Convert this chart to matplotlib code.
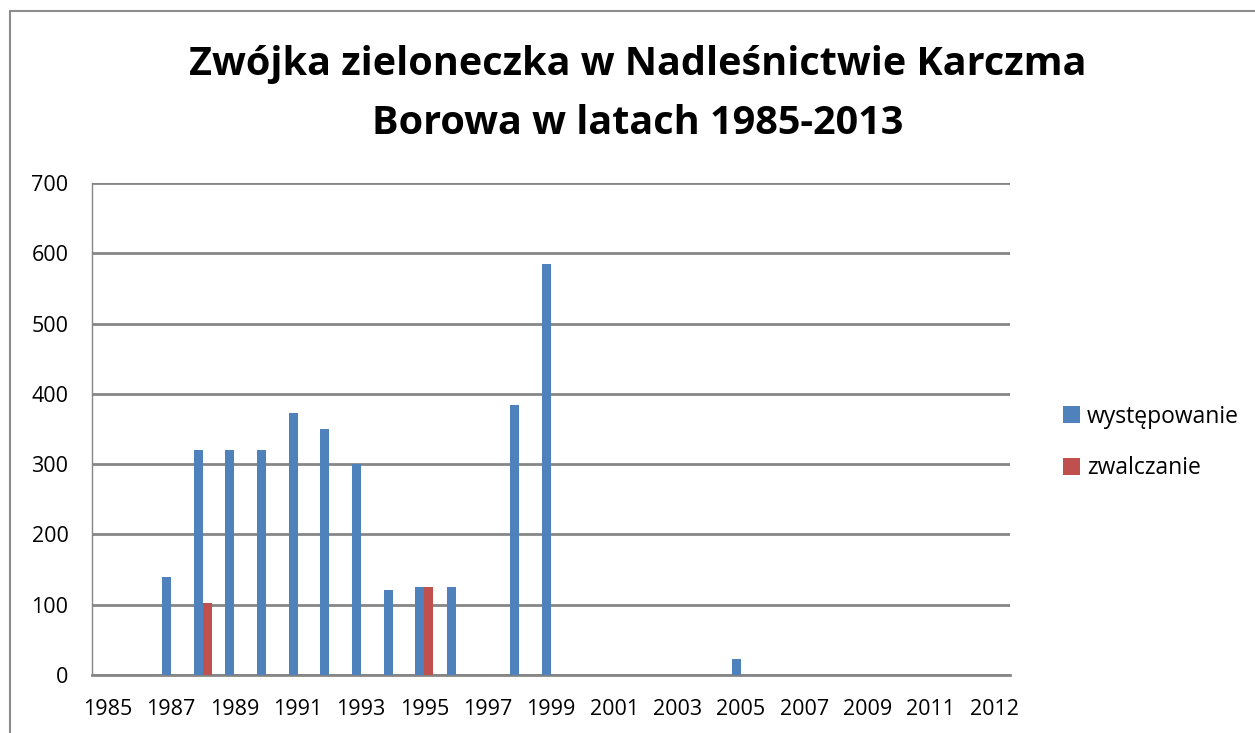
import matplotlib
matplotlib.use("Agg")
import matplotlib.pyplot as plt
import numpy as np

plt.rcParams['font.family'] = ['Open Sans', 'DejaVu Sans']

# dane
years = list(range(1985, 2014))
wystepowanie = [0, 0, 140, 320, 320, 320, 373, 350, 300, 121, 125, 125, 0, 384, 585,
                0, 0, 0, 0, 0, 23, 0, 0, 0, 0, 0, 0, 0, 0]
zwalczanie = [0, 0, 0, 102, 0, 0, 0, 0, 0, 0, 125, 0, 0, 0, 0,
              0, 0, 0, 0, 0, 0, 0, 0, 0, 0, 0, 0, 0, 0]
# etykiety osi X tak jak na oryginale (co druga kategoria, ostatnia "2012")
xtick_labels = ['1985', '1987', '1989', '1991', '1993', '1995', '1997', '1999',
                '2001', '2003', '2005', '2007', '2009', '2011', '2012']
yticks = [0, 100, 200, 300, 400, 500, 600, 700]

W, H = 1255, 733
fig = plt.figure(figsize=(W / 100, H / 100), dpi=100)

# ramka obszaru wykresu (ucięta z prawej i z dołu)
fig.patches.append(plt.Rectangle((10 / W, -0.1), 1.2, 1 - 11 / H + 0.1,
                                 transform=fig.transFigure, fill=False,
                                 edgecolor='#8c8c8c', linewidth=1.5))

ax = fig.add_axes([92 / W, 1 - 675 / H, (1010 - 92) / W, (675 - 183) / H])

x = np.arange(len(years))
bw = 1 / 3.5
ax.bar(x - bw / 2, wystepowanie, width=bw, color='#4F81BD', label='występowanie', zorder=3)
ax.bar(x + bw / 2, zwalczanie, width=bw, color='#C0504D', label='zwalczanie', zorder=3)

ax.set_xlim(-0.5, len(years) - 0.5)
ax.set_ylim(0, 700)
ax.set_yticks(yticks)
ax.set_xticks(x[::2])
ax.set_xticklabels(xtick_labels)
ax.tick_params(axis='both', length=0, labelsize=15.5)
ax.tick_params(axis='x', pad=17)
ax.tick_params(axis='y', pad=17)

ax.grid(axis='y', color='#868686', linewidth=2, zorder=0)
for s in ['top', 'right']:
    ax.spines[s].set_visible(False)
ax.spines['bottom'].set_color('#868686')
ax.spines['bottom'].set_linewidth(2)
ax.spines['left'].set_color('#868686')
ax.spines['left'].set_linewidth(1)

fig.text(638 / W, 1 - 65 / H, 'Zwójka zieloneczka w Nadleśnictwie Karczma',
         ha='center', va='center', fontsize=28.5, fontweight='bold')
fig.text(638 / W, 1 - 123 / H, 'Borowa w latach 1985-2013',
         ha='center', va='center', fontsize=28.5, fontweight='bold')

fig.legend(loc='upper left', bbox_to_anchor=(1042 / W, 1 - 384 / H), frameon=False,
           fontsize=16.5, handlelength=0.75, handleheight=0.75, handletextpad=0.3,
           labelspacing=1.2)

fig.savefig('out.png', dpi=100)
